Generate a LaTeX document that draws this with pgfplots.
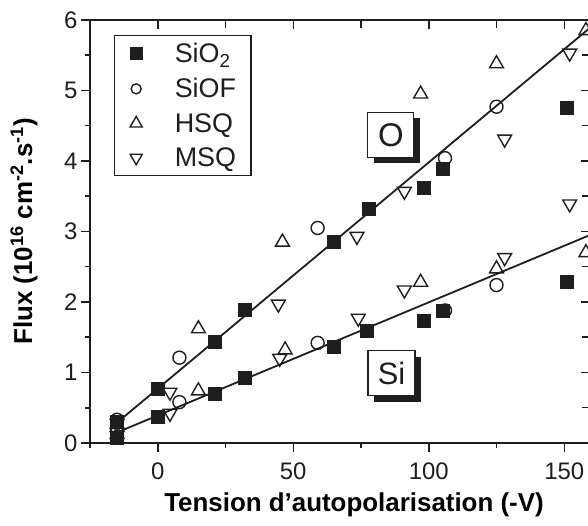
\documentclass[border=0pt]{standalone}
\usepackage{fontspec}
\setmainfont{Liberation Sans}
\usepackage{pgfplots}
\pgfplotsset{compat=1.18}
\usetikzlibrary{shadows}
\definecolor{ink}{HTML}{1E1E1E}

\begin{document}
\begin{tikzpicture}
\pgfplotsset{
  base/.style={
    scale only axis, width=500bp, height=423bp,
    at={(0,0)}, anchor=south west,
    xmin=-25, xmax=159.5, ymin=0, ymax=6,
    axis line style={ink, line width=1.8bp},
    every tick/.style={ink, line width=1.5bp},
    major tick length=9bp, minor tick length=5bp,
    ytick={0,...,6}, minor ytick={0.5,1.5,...,5.5},
  },
  % marker at 8bp, image 44bp wide (the invisible path keeps the width)
  legmark/.style={legend image code/.code={%
    \path (0bp,0bp) (44bp,0bp);
    \draw[##1, mark size=#1, mark repeat=2, mark phase=2]
      plot coordinates {(0bp,0bp)(8bp,0bp)(44bp,0bp)};}},
}
% top and right ticks point inwards
\begin{axis}[base, xtick pos=top, ytick pos=right, tick align=inside,
  xtick={0,50,100,150}, minor xtick={25,75,125},
  minor tick length=8bp,
  xticklabels={}, yticklabels={}]
\end{axis}

\begin{axis}[base, xtick pos=bottom, ytick pos=left, tick align=outside,
  xtick={0,50,100,150}, minor xtick={-25,25,75,125},
  /pgf/number format/assume math mode=true,
  ticklabel style={font=\fontsize{24}{28}\selectfont, text=ink},
  xticklabel style={yshift=-7bp},
  xlabel={\bfseries Tension d’autopolarisation (-V)},
  ylabel={\bfseries Flux (10\textsuperscript{16} cm\textsuperscript{-2}.s\textsuperscript{-1})},
  label style={font=\fontsize{26}{30}\selectfont, text=black},
  xlabel style={at={(axis description cs:0.528,-0.147)}, anchor=center},
  ylabel style={at={(axis description cs:-0.132,0.5)}, anchor=center},
  legend style={at={(axis description cs:0.048,0.965)}, anchor=north west,
    draw=ink, line width=1.2bp, inner xsep=13bp, inner ysep=6bp,
    font=\fontsize{27}{31}\selectfont, text=ink, row sep=10bp},
  legend cell align=left,
]
% fitted lines
\addplot[forget plot, ink, line width=1.8bp] coordinates {(-15,0.29) (159.5,5.89)};
\addplot[forget plot, ink, line width=1.8bp] coordinates {(-15,0.15) (159.5,2.95)};

\addplot[only marks, mark=square*, mark size=6.5bp, mark options={draw=ink, fill=ink}, legmark=6bp]
  coordinates {
  (-15,0.30) (0,0.77) (21,1.44) (32,1.89) (65,2.85) (78,3.32) (98,3.62) (105,3.89) (151,4.75)
  (-15,0.08) (0,0.38) (21,0.70) (32,0.92) (65,1.37) (77,1.60) (98,1.74) (105,1.87) (151,2.29)
  };
\addlegendentry{SiO\textsubscript{2}}

\addplot[only marks, mark=o, mark size=6.5bp, mark options={draw=ink, fill=white, line width=1.4bp}, legmark=5bp]
  coordinates {
  (-15,0.33) (8,1.21) (59,3.05) (106,4.04) (125,4.77)
  (-15,0.20) (8,0.58) (59,1.42) (106,1.88) (125,2.24)
  };
\addlegendentry{SiOF}

\addplot[only marks, mark=triangle, mark size=8bp, mark options={draw=ink, fill=white, line width=1.4bp}, legmark=7bp]
  coordinates {
  (-15,0.22) (15,1.62) (46,2.85) (97,4.95) (125,5.38) (158,5.85)
  (-15,0.12) (15,0.74) (47,1.32) (97,2.28) (125,2.47) (158,2.70)
  };
\addlegendentry{HSQ}

\addplot[only marks, mark=triangle, mark size=8bp, mark options={draw=ink, fill=white, line width=1.4bp, rotate=180}, legmark=7bp]
  coordinates {
  (-15,0.28) (4.5,0.72) (44.5,1.97) (73.5,2.93) (91,3.57) (128,4.31) (152,5.53) (152,3.39)
  (-15,0.15) (4.5,0.42) (45,1.20) (74,1.77) (91,2.17) (128,2.63)
  };
\addlegendentry{MSQ}

\node[draw=ink, line width=1.3bp, fill=white, minimum width=46bp, minimum height=45bp,
  inner sep=0pt, drop shadow={shadow xshift=6bp, shadow yshift=-6bp, fill=ink, opacity=1},
  font=\fontsize{33}{33}\selectfont, text=ink] at (axis cs:86,4.37) {O};
\node[draw=ink, line width=1.3bp, fill=white, minimum width=47bp, minimum height=45bp,
  inner sep=0pt, drop shadow={shadow xshift=6bp, shadow yshift=-6bp, fill=ink, opacity=1},
  font=\fontsize{31}{31}\selectfont, text=ink] at (axis cs:86.3,0.99) {Si};
\end{axis}
\pgfresetboundingbox
\useasboundingbox (-90bp,-83bp) rectangle (498bp,443bp);
\end{tikzpicture}
\end{document}
